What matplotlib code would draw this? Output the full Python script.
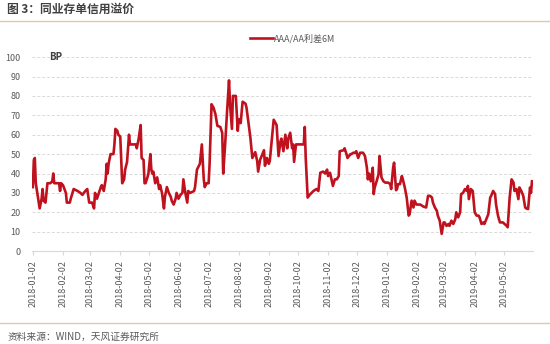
import matplotlib.pyplot as plt
import matplotlib.dates as mdates
import pandas as pd

plt.rcParams['font.family'] = ['Noto Sans CJK SC', 'DejaVu Sans']

# AAA/AA spread (6M NCD); x = days after start date
start_date = '2018-01-02'
day_offsets = [
    0, 1, 2, 3, 6, 7, 9, 10, 11, 13, 15, 18, 20, 21, 22, 27, 28, 29, 31, 34,
    35, 38, 39, 42, 46, 49, 51, 54, 56, 58, 61, 63, 64, 66, 68, 70, 71, 73, 75, 76,
    77, 78, 80, 83, 84, 85, 87, 88, 90, 92, 94, 95, 97, 99, 100, 106, 107, 109, 111, 112,
    114, 115, 116, 118, 119, 121, 122, 123, 124, 126, 128, 130, 131, 133, 135, 136, 138, 140, 142, 143,
    145, 147, 148, 150, 152, 154, 155, 157, 159, 160, 162, 166, 167, 169, 171, 172, 174, 176, 177, 179,
    181, 182, 183, 184, 186, 188, 190, 193, 195, 196, 198, 200, 202, 203, 205, 206, 209, 211, 212, 214,
    216, 219, 220, 224, 226, 229, 231, 232, 234, 238, 239, 241, 243, 244, 248, 251, 253, 255, 256, 258,
    260, 262, 263, 265, 267, 268, 269, 271, 279, 280, 281, 283, 285, 287, 289, 292, 294, 296, 299, 301,
    303, 304, 306, 308, 309, 311, 313, 315, 316, 320, 321, 323, 324, 327, 328, 330, 332, 333, 335, 337,
    340, 342, 344, 345, 346, 348, 350, 351, 352, 354, 356, 357, 359, 361, 363, 366, 368, 369, 371, 372,
    374, 375, 376, 378, 380, 381, 383, 385, 387, 388, 390, 392, 393, 395, 399, 402, 405, 407, 409, 411,
    412, 414, 416, 417, 419, 421, 423, 424, 426, 428, 429, 431, 433, 435, 436, 438, 440, 441, 443, 445,
    447, 448, 449, 451, 453, 455, 457, 459, 460, 462, 464, 465, 467, 469, 471, 472, 474, 476, 477, 479,
    481, 484, 488, 489, 491, 493, 495, 496, 498, 500, 501, 503, 505, 507, 508, 510, 512, 513, 514,
]
spread_bp = [
    33, 47, 48, 35, 25, 22, 27, 32, 26, 25, 35, 35, 36, 40, 35, 35, 31, 35, 34, 30,
    25, 25, 27, 32, 31, 30, 29, 31, 32, 25, 25, 22, 30, 27, 30, 33, 34, 31, 37, 45,
    40, 45, 50, 50, 55, 63, 62, 60, 59, 35, 37, 42, 46, 60, 55, 55, 53, 58, 65, 48,
    47, 35, 35, 38, 40, 50, 42, 40, 41, 35, 38, 32, 34, 30, 22, 28, 33, 30, 28, 26,
    24, 27, 30, 27, 29, 30, 37, 30, 25, 31, 30, 31, 33, 42, 44, 45, 55, 37, 33, 35,
    35, 45, 60, 75.7, 74, 70.6, 64.6, 64, 61, 40, 55, 72, 88, 76, 63, 80, 80, 62, 68, 66,
    77, 76, 74, 58.5, 48, 51, 46.5, 41, 47, 52, 44, 48, 45, 46.5, 67.7, 65, 49, 56.6, 58, 51.5,
    60, 53, 58, 61, 53, 55, 46, 55, 55, 64, 48, 27.6, 29, 30, 31, 32, 31, 40.4, 41, 40,
    42, 38.7, 40.4, 36, 33.6, 37, 37, 38.7, 51.5, 52, 53, 50, 48, 50, 50, 50.7, 50.7, 51.5, 48, 50.7,
    50.7, 49, 43, 37, 40, 36, 43, 29.4, 32.8, 36, 39.6, 49, 38, 36, 35.3, 35.3, 34.5, 32, 43, 45.6,
    31.4, 32, 34.5, 34.5, 38.7, 37, 32.8, 27.6, 18.3, 19, 26, 22.5, 26, 24, 24, 23, 22.5, 28.5, 28.5, 27.6,
    25, 22.5, 20.8, 18.3, 15.7, 8.9, 14.8, 14.8, 13, 14, 13, 15.7, 14, 16.5, 20, 17.4, 20, 29.4, 30, 32,
    31, 33.6, 26.8, 32, 31, 20, 18.3, 18.3, 17.4, 14, 14.8, 14, 16.5, 19, 27.6, 28.5, 31, 29.4, 24, 18.3,
    14.8, 14.8, 13, 12.3, 27.6, 37, 35.3, 31, 32, 26.8, 32.8, 31, 28.5, 22.5, 22, 21.7, 32.8, 30, 36,
]
tick_labels = [
    '2018-01-02', '2018-02-02', '2018-03-02', '2018-04-02', '2018-05-02', '2018-06-02',
    '2018-07-02', '2018-08-02', '2018-09-02', '2018-10-02', '2018-11-02', '2018-12-02',
    '2019-01-02', '2019-02-02', '2019-03-02', '2019-04-02', '2019-05-02',
]
series_name = 'AAA/AA利差6M'

dates = pd.Timestamp(start_date) + pd.to_timedelta(day_offsets, unit='D')
ticks = pd.to_datetime(tick_labels)

fig = plt.figure(figsize=(5.5, 3.44), dpi=100)
ax = fig.add_axes([0.058, 0.27, 0.911, 0.564])

ax.plot(dates, spread_bp, color='#C0121E', lw=1.9, label=series_name)

ax.set_ylim(0, 100)
ax.set_yticks(range(0, 101, 10))
ax.set_xlim(pd.Timestamp(start_date) - pd.Timedelta(days=1),
            pd.Timestamp(start_date) + pd.Timedelta(days=515))
ax.set_xticks(ticks)
ax.set_xticklabels(tick_labels, rotation=90)
ax.xaxis.set_major_formatter(mdates.DateFormatter('%Y-%m-%d'))

ax.grid(axis='y', color='#D9D9D9', linestyle=(0, (3, 2)), lw=0.7)
ax.set_axisbelow(True)
for side in ['top', 'right', 'left']:
    ax.spines[side].set_visible(False)
ax.spines['bottom'].set_color('#D9D9D9')
ax.tick_params(axis='y', length=0, labelsize=6.5, labelcolor='#595959', pad=8)
ax.tick_params(axis='x', length=3, color='#D9D9D9', labelsize=6.5, labelcolor='#595959')

ax.text(0.035, 1.0, 'BP', transform=ax.transAxes, fontsize=7, fontweight='bold',
        color='#404040', va='center')

leg = ax.legend(loc='lower center', bbox_to_anchor=(0.52, 1.03), frameon=False,
                fontsize=6.5, handlelength=2.6, handletextpad=0.1)
for t in leg.get_texts():
    t.set_color('#595959')

# header and footer
fig.text(0.013, 0.972, '图 3：同业存单信用溢价', fontsize=8.5, fontweight='bold',
         color='#404040', va='center')
fig.add_artist(plt.Line2D([0, 1], [0.939, 0.939], color='#E0C8A8', lw=1))
fig.add_artist(plt.Line2D([0, 1], [0.062, 0.062], color='#E0C8A8', lw=1))
fig.text(0.013, 0.022, '资料来源：WIND，天风证券研究所', fontsize=7, color='#595959', va='center')

fig.savefig('out.png', dpi=100)
